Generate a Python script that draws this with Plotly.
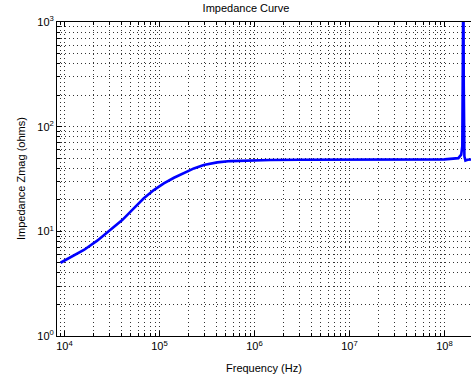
import plotly.graph_objects as go

# ---- data ----
freq_hz = [9.08e3, 1.16e4, 1.60e4, 2.21e4, 3.05e4, 4.05e4, 5.36e4, 6.84e4, 8.71e4,
           1.11e5, 1.42e5, 1.80e5, 2.30e5, 2.92e5, 4.05e5, 5.58e5, 9.08e5, 1.47e6,
           3.0e6, 1.0e7, 3.0e7, 1.0e8, 1.40e8, 1.50e8, 1.54e8, 1.565e8, 1.58e8,
           1.595e8, 1.62e8, 1.66e8, 1.75e8, 1.95e8]
zmag_ohm = [5.01, 5.65, 6.64, 8.15, 10.3, 12.8, 16.6, 20.7, 24.8,
            28.7, 32.5, 35.8, 39.9, 43.0, 45.6, 46.9, 47.6, 48.0,
            48.3, 48.5, 48.6, 48.7, 50.0, 54.0, 65.0, 250.0, 3000.0,
            250.0, 52.0, 47.5, 48.3, 48.6]

x_major_vals = [1e4, 1e5, 1e6, 1e7, 1e8]
x_major_text = ["10<sup>4</sup>", "10<sup>5</sup>", "10<sup>6</sup>", "10<sup>7</sup>", "10<sup>8</sup>"]
y_major_vals = [1, 10, 100, 1000]
y_major_text = ["10<sup>0</sup>", "10<sup>1</sup>", "10<sup>2</sup>", "10<sup>3</sup>"]
x_minor_vals = [m * 10 ** e for e in range(3, 9) for m in range(2, 10)]
y_minor_vals = [m * 10 ** e for e in range(0, 3) for m in range(2, 10)]

title_text = "Impedance Curve"
x_title = "Frequency (Hz)"
y_title = "Impedance Zmag (ohms)"

FONT = "Liberation Sans, Arial, Helvetica, sans-serif"
W, H = 471, 381
ML, MT, MB = 57, 22, 45

fig = go.Figure()
fig.add_trace(go.Scatter(x=freq_hz, y=zmag_ohm, mode="lines",
                         line=dict(color="#0000ff", width=2.6),
                         showlegend=False, hoverinfo="skip"))

grid_dash = "1px,3px"
grid_col = "#333333"

common_axis = dict(
    type="log",
    automargin=False,
    showline=True, linecolor="black", linewidth=1,
    ticks="inside", ticklen=5, tickcolor="black",
    showgrid=True, gridcolor=grid_col, gridwidth=1, griddash=grid_dash,
    zeroline=False,
    tickfont=dict(family=FONT, size=11, color="black"),
    tickmode="array",
)

fig.update_xaxes(**common_axis,
                 range=[3.921, 8.279],
                 tickvals=x_major_vals, ticktext=x_major_text,
                 mirror="ticks",
                 minor=dict(tickmode="array", tickvals=x_minor_vals,
                            ticks="inside", ticklen=3, tickcolor="black",
                            showgrid=True, gridcolor=grid_col, gridwidth=1,
                            griddash=grid_dash))
fig.update_yaxes(**common_axis,
                 range=[0, 3],
                 tickvals=y_major_vals, ticktext=y_major_text,
                 minor=dict(tickmode="array", tickvals=y_minor_vals,
                            ticks="inside", ticklen=3, tickcolor="black",
                            showgrid=True, gridcolor=grid_col, gridwidth=1,
                            griddash=grid_dash))

fig.update_layout(
    width=W, height=H,
    margin=dict(l=ML, r=0, t=MT, b=MB, pad=0, autoexpand=False),
    paper_bgcolor="white", plot_bgcolor="white",
    font=dict(family=FONT, size=11, color="black"),
    hovermode=False,
    title=dict(text=title_text, x=246 / W, xref="container", xanchor="center",
               y=1 - 8 / H, yref="container", yanchor="middle", automargin=False,
               font=dict(family=FONT, size=11, color="black")),
    annotations=[
        dict(text=x_title, xref="paper", yref="paper", x=0.5, y=-(368 - 336) / (336 - 22),
             xanchor="center", yanchor="middle", showarrow=False,
             font=dict(family=FONT, size=11, color="black")),
        dict(text=y_title, xref="paper", yref="paper", x=-(57 - 21) / (W - ML), y=0.5,
             xanchor="center", yanchor="middle", textangle=-90, showarrow=False,
             font=dict(family=FONT, size=11, color="black")),
    ],
)

fig.write_html(
    "out.html",
    config={"displayModeBar": False},
    post_script="document.body.style.margin='0';document.body.style.overflow='hidden';",
)
